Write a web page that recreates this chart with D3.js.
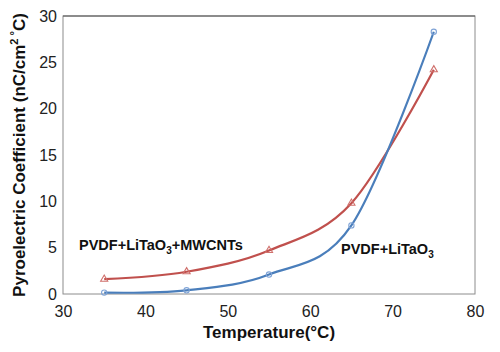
<!DOCTYPE html>
<html>
<head>
<meta charset="utf-8">
<script src="https://cdn.jsdelivr.net/npm/d3@7"></script>
<style>
  html, body { margin: 0; padding: 0; background: #fff; }
  svg { display: block; font-family: Arial, "Liberation Sans", sans-serif; }
</style>
</head>
<body>
<div id="chart"></div>
<script>
const temperature = [35, 45, 55, 65, 75];
const litao3 = [0.15, 0.4, 2.1, 7.4, 28.3];
const mwcnts = [1.6, 2.4, 4.7, 9.8, 24.2];
const xTicks = [30, 40, 50, 60, 70, 80];
const yTicks = [0, 5, 10, 15, 20, 25, 30];

const width = 500, height = 352;
const margin = { top: 16, right: 25, bottom: 58, left: 63 };

const svg = d3.select('#chart').append('svg')
    .attr('width', width).attr('height', height);

const x = d3.scaleLinear().domain([30, 80]).range([margin.left, width - margin.right]);
const y = d3.scaleLinear().domain([0, 30]).range([height - margin.bottom, margin.top]);

// plot frame
svg.append('rect')
    .attr('x', x(30)).attr('y', y(30))
    .attr('width', x(80) - x(30)).attr('height', y(0) - y(30))
    .attr('fill', 'none').attr('stroke', '#8c8c8c').attr('stroke-width', 1);
svg.append('line')
    .attr('x1', x(30)).attr('x2', x(80)).attr('y1', y(30)).attr('y2', y(30))
    .attr('stroke', '#555').attr('stroke-width', 1.2);

// axes (labels only)
const xAxis = svg.append('g')
    .attr('transform', `translate(0,${y(0)})`)
    .call(d3.axisBottom(x).tickValues(xTicks).tickSize(0).tickPadding(12));
const yAxis = svg.append('g')
    .attr('transform', `translate(${x(30)},0)`)
    .call(d3.axisLeft(y).tickValues(yTicks).tickSize(0).tickPadding(6));
[xAxis, yAxis].forEach((a) => {
    a.select('.domain').remove();
    a.selectAll('text').attr('fill', '#222').style('font-size', '16px');
});

// series
const series = [
    { name: 'mwcnts', values: mwcnts, line: '#c0504d', marker: '#d0706c', shape: 'triangle' },
    { name: 'litao3', values: litao3, line: '#4a7ebb', marker: '#7fa3d6', shape: 'circle' },
];
const line = d3.line().curve(d3.curveCatmullRom.alpha(0))
    .x((d) => x(d[0])).y((d) => y(d[1]));

series.forEach((s) => {
    const pts = temperature.map((t, i) => [t, s.values[i]]);
    svg.append('path').datum(pts)
        .attr('d', line)
        .attr('fill', 'none').attr('stroke', s.line).attr('stroke-width', 2.2);
    const sym = d3.symbol().type(s.shape === 'circle' ? d3.symbolCircle : d3.symbolTriangle).size(22);
    svg.selectAll(null).data(pts).enter().append('path')
        .attr('d', sym)
        .attr('transform', (d) => `translate(${x(d[0])},${y(d[1])})`)
        .attr('fill', 'none').attr('stroke', s.marker).attr('stroke-width', 1.1);
});

// series labels
const lab1 = svg.append('text').attr('x', 79).attr('y', 250)
    .attr('font-weight', 'bold').attr('font-size', 14.5).attr('fill', '#111');
lab1.append('tspan').text('PVDF+LiTaO');
lab1.append('tspan').attr('font-size', 10).attr('dy', 4).text('3');
lab1.append('tspan').attr('dy', -4).text('+MWCNTs');

const lab2 = svg.append('text').attr('x', 341).attr('y', 254)
    .attr('font-weight', 'bold').attr('font-size', 14.5).attr('fill', '#111');
lab2.append('tspan').text('PVDF+LiTaO');
lab2.append('tspan').attr('font-size', 10).attr('dy', 4).text('3');

// axis titles
svg.append('text')
    .attr('x', (x(30) + x(80)) / 2).attr('y', 338)
    .attr('text-anchor', 'middle').attr('font-weight', 'bold').attr('font-size', 17).attr('fill', '#111')
    .text('Temperature(°C)');

const yt = svg.append('text')
    .attr('transform', `translate(25,${(y(0) + y(30)) / 2}) rotate(-90)`)
    .attr('text-anchor', 'middle').attr('font-weight', 'bold').attr('font-size', 17).attr('fill', '#111');
yt.append('tspan').text('Pyroelectric Coefficient (nC/cm');
yt.append('tspan').attr('font-size', 11).attr('dy', -7).text('2');
yt.append('tspan').attr('font-size', 11).text(' °');
yt.append('tspan').attr('dy', 7).text('C)');
</script>
</body>
</html>
